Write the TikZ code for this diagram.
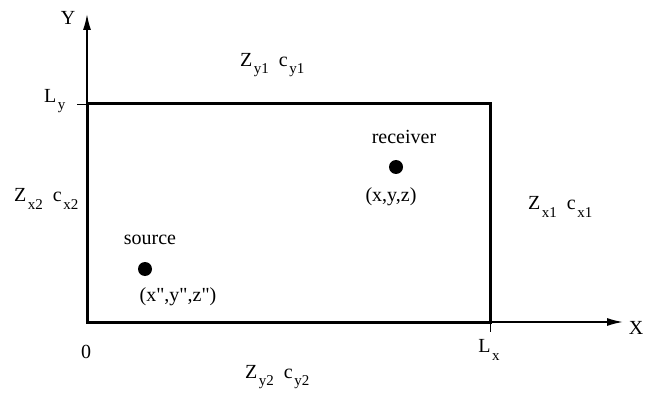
\documentclass[tikz,border=0pt]{standalone}
\usepackage{fontspec}
\setmainfont{Liberation Serif}
\newfontfamily\straightfont{Liberation Serif}[Ligatures=TeXOff]
\usetikzlibrary{arrows.meta}
\newcommand{\lowsub}[2]{#1\kern1.5pt\raisebox{-0.8ex}{\fontsize{15}{15}\selectfont #2}}

\begin{document}
\begin{tikzpicture}[
  x=1pt, y=1pt,
  lab/.style={font=\fontsize{20}{22}\selectfont, inner sep=0pt},
  axis/.style={-{Latex[length=16pt,width=8pt]}, line width=1.5pt},
  wall/.style={line width=3pt, line cap=rect},
  tick/.style={line width=0.8pt},
  dot/.style={circle, fill=black, inner sep=0pt, minimum size=14pt},
]
\useasboundingbox (0,0) rectangle (650,394);

% Axes
\coordinate (o) at (87,72);
\coordinate (ytip) at (87,380);
\coordinate (xtip) at (623,72);
\draw[axis] (o) -- (ytip);
\draw[axis] (o) -- (xtip);
\node[lab] (ylab) at (68,376) {Y};
\node[lab] (xlab) at (636,66) {X};
\node[lab] (zero) at (86,42) {0};

% Room walls
\draw[wall] (o) rectangle (490,290);

% Ticks at the room size
\coordinate (ly) at (87,290);
\coordinate (lyt) at (77,290);
\coordinate (lx) at (490,72);
\coordinate (lxt) at (490,62);
\draw[tick] (ly) -- (lyt);
\draw[tick] (lx) -- (lxt);
\node[lab, anchor=west] (lylab) at (44,293) {\lowsub{L}{y}};
\node[lab] (lxlab) at (489,44) {\lowsub{L}{x}};

% Wall impedances
\node[lab, anchor=west] (zy1) at (240,329) {\lowsub{Z}{y1}\enspace\lowsub{c}{y1}};
\node[lab, anchor=west] (zy2) at (245,17) {\lowsub{Z}{y2}\enspace\lowsub{c}{y2}};
\node[lab, anchor=west] (zx2) at (14,195) {\lowsub{Z}{x2}\enspace\lowsub{c}{x2}};
\node[lab, anchor=west] (zx1) at (528,187) {\lowsub{Z}{x1}\enspace\lowsub{c}{x1}};

% Receiver
\node[dot] (rdot) at (396,227) {};
\node[lab] (rlab) at (404,257) {receiver};
\node[lab] (rpos) at (391,197) {(x,y,z)};

% Source
\node[dot] (sdot) at (145,125) {};
\node[lab] (slab) at (150,154) {source};
\node[lab] (spos) at (178,97) {\straightfont (x",y",z")};

\end{tikzpicture}
\end{document}
